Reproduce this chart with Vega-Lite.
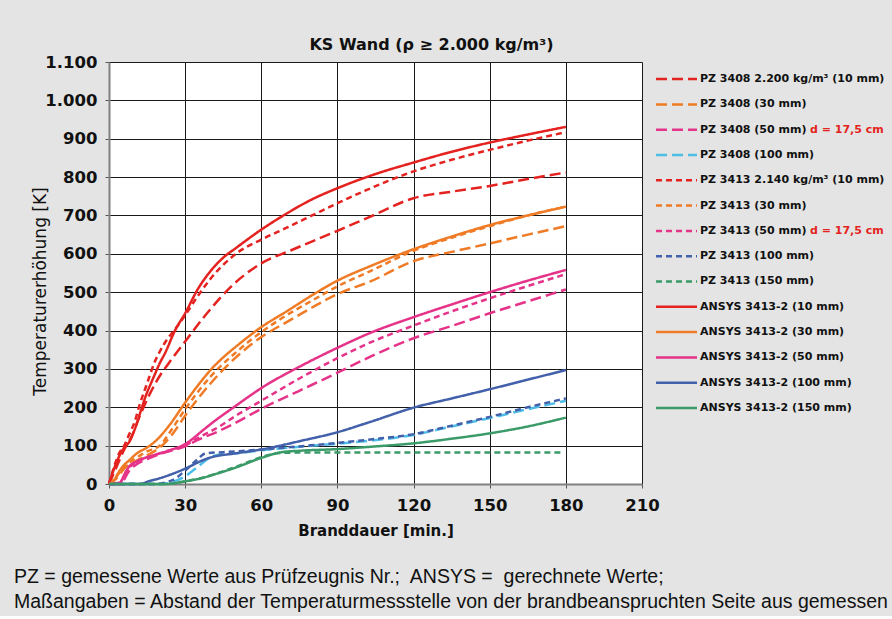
{
  "$schema": "https://vega.github.io/schema/vega-lite/v6.json",
  "background": "#e3e4e3",
  "padding": {"left": 14, "top": 37, "right": 2, "bottom": 5},
  "spacing": 14,
  "bounds": "flush",
  "title": {
    "text": ["PZ = gemessene Werte aus Prüfzeugnis Nr.;\u00a0 ANSYS =\u00a0 gerechnete Werte;", "Maßangaben = Abstand der Temperaturmessstelle von der brandbeanspruchten Seite aus gemessen"],
    "orient": "bottom",
    "anchor": "start",
    "frame": "bounds",
    "dx": -17,
    "offset": 29,
    "font": "Liberation Sans",
    "fontSize": 19.5,
    "fontWeight": "normal",
    "lineHeight": 25,
    "color": "#111"
  },
  "datasets": {
    "curves": [
      {"s":"3408-10","t":0,"T":0},{"s":"3408-10","t":3,"T":45},{"s":"3408-10","t":6,"T":90},{"s":"3408-10","t":9,"T":125},{"s":"3408-10","t":12,"T":175},{"s":"3408-10","t":15,"T":220},{"s":"3408-10","t":19,"T":271},{"s":"3408-10","t":25,"T":328},{"s":"3408-10","t":31,"T":380},{"s":"3408-10","t":37,"T":432},{"s":"3408-10","t":40,"T":456},{"s":"3408-10","t":48,"T":514},{"s":"3408-10","t":60,"T":575},{"s":"3408-10","t":72,"T":610},{"s":"3408-10","t":90,"T":660},{"s":"3408-10","t":103,"T":697},{"s":"3408-10","t":120,"T":745},{"s":"3408-10","t":135,"T":762},{"s":"3408-10","t":150,"T":777},{"s":"3408-10","t":165,"T":795},{"s":"3408-10","t":180,"T":812},
      {"s":"3408-30","t":0,"T":0},{"s":"3408-30","t":3,"T":15},{"s":"3408-30","t":6,"T":40},{"s":"3408-30","t":10,"T":58},{"s":"3408-30","t":15,"T":75},{"s":"3408-30","t":20,"T":95},{"s":"3408-30","t":25,"T":130},{"s":"3408-30","t":30,"T":178},{"s":"3408-30","t":35,"T":222},{"s":"3408-30","t":40,"T":262},{"s":"3408-30","t":45,"T":298},{"s":"3408-30","t":50,"T":330},{"s":"3408-30","t":60,"T":383},{"s":"3408-30","t":70,"T":422},{"s":"3408-30","t":80,"T":460},{"s":"3408-30","t":90,"T":495},{"s":"3408-30","t":103,"T":528},{"s":"3408-30","t":120,"T":581},{"s":"3408-30","t":135,"T":605},{"s":"3408-30","t":150,"T":627},{"s":"3408-30","t":165,"T":650},{"s":"3408-30","t":180,"T":672},
      {"s":"3408-50","t":0,"T":0},{"s":"3408-50","t":5,"T":5},{"s":"3408-50","t":8,"T":35},{"s":"3408-50","t":11,"T":52},{"s":"3408-50","t":15,"T":65},{"s":"3408-50","t":20,"T":78},{"s":"3408-50","t":25,"T":88},{"s":"3408-50","t":30,"T":98},{"s":"3408-50","t":35,"T":115},{"s":"3408-50","t":43,"T":137},{"s":"3408-50","t":50,"T":160},{"s":"3408-50","t":60,"T":196},{"s":"3408-50","t":75,"T":243},{"s":"3408-50","t":90,"T":290},{"s":"3408-50","t":103,"T":332},{"s":"3408-50","t":120,"T":380},{"s":"3408-50","t":135,"T":412},{"s":"3408-50","t":150,"T":445},{"s":"3408-50","t":165,"T":476},{"s":"3408-50","t":180,"T":507},
      {"s":"3408-100","t":0,"T":0},{"s":"3408-100","t":20,"T":0},{"s":"3408-100","t":25,"T":5},{"s":"3408-100","t":30,"T":20},{"s":"3408-100","t":35,"T":45},{"s":"3408-100","t":40,"T":70},{"s":"3408-100","t":45,"T":78},{"s":"3408-100","t":50,"T":80},{"s":"3408-100","t":60,"T":88},{"s":"3408-100","t":75,"T":97},{"s":"3408-100","t":90,"T":105},{"s":"3408-100","t":103,"T":113},{"s":"3408-100","t":120,"T":128},{"s":"3408-100","t":135,"T":150},{"s":"3408-100","t":150,"T":172},{"s":"3408-100","t":165,"T":195},{"s":"3408-100","t":180,"T":217},
      {"s":"3413-10","t":0,"T":0},{"s":"3413-10","t":2,"T":45},{"s":"3413-10","t":4,"T":80},{"s":"3413-10","t":6,"T":100},{"s":"3413-10","t":8,"T":130},{"s":"3413-10","t":10,"T":160},{"s":"3413-10","t":12,"T":205},{"s":"3413-10","t":15,"T":262},{"s":"3413-10","t":18,"T":318},{"s":"3413-10","t":20,"T":345},{"s":"3413-10","t":23,"T":378},{"s":"3413-10","t":26,"T":403},{"s":"3413-10","t":30,"T":440},{"s":"3413-10","t":35,"T":490},{"s":"3413-10","t":40,"T":535},{"s":"3413-10","t":50,"T":600},{"s":"3413-10","t":60,"T":637},{"s":"3413-10","t":70,"T":668},{"s":"3413-10","t":80,"T":700},{"s":"3413-10","t":90,"T":732},{"s":"3413-10","t":100,"T":762},{"s":"3413-10","t":110,"T":790},{"s":"3413-10","t":120,"T":815},{"s":"3413-10","t":135,"T":845},{"s":"3413-10","t":150,"T":871},{"s":"3413-10","t":165,"T":895},{"s":"3413-10","t":180,"T":917},
      {"s":"3413-30","t":0,"T":0},{"s":"3413-30","t":3,"T":20},{"s":"3413-30","t":6,"T":45},{"s":"3413-30","t":10,"T":65},{"s":"3413-30","t":15,"T":85},{"s":"3413-30","t":20,"T":100},{"s":"3413-30","t":25,"T":145},{"s":"3413-30","t":30,"T":195},{"s":"3413-30","t":35,"T":240},{"s":"3413-30","t":40,"T":280},{"s":"3413-30","t":50,"T":343},{"s":"3413-30","t":60,"T":396},{"s":"3413-30","t":70,"T":440},{"s":"3413-30","t":80,"T":478},{"s":"3413-30","t":90,"T":515},{"s":"3413-30","t":103,"T":555},{"s":"3413-30","t":120,"T":608},{"s":"3413-30","t":135,"T":642},{"s":"3413-30","t":150,"T":672},{"s":"3413-30","t":165,"T":700},{"s":"3413-30","t":180,"T":723},
      {"s":"3413-50","t":0,"T":0},{"s":"3413-50","t":4,"T":2},{"s":"3413-50","t":7,"T":35},{"s":"3413-50","t":10,"T":55},{"s":"3413-50","t":15,"T":68},{"s":"3413-50","t":20,"T":80},{"s":"3413-50","t":25,"T":90},{"s":"3413-50","t":30,"T":100},{"s":"3413-50","t":35,"T":120},{"s":"3413-50","t":43,"T":148},{"s":"3413-50","t":50,"T":178},{"s":"3413-50","t":60,"T":217},{"s":"3413-50","t":75,"T":275},{"s":"3413-50","t":90,"T":328},{"s":"3413-50","t":103,"T":369},{"s":"3413-50","t":120,"T":413},{"s":"3413-50","t":135,"T":450},{"s":"3413-50","t":150,"T":484},{"s":"3413-50","t":165,"T":516},{"s":"3413-50","t":180,"T":547},
      {"s":"3413-100","t":0,"T":0},{"s":"3413-100","t":18,"T":0},{"s":"3413-100","t":25,"T":10},{"s":"3413-100","t":30,"T":35},{"s":"3413-100","t":35,"T":65},{"s":"3413-100","t":38,"T":80},{"s":"3413-100","t":45,"T":83},{"s":"3413-100","t":50,"T":85},{"s":"3413-100","t":60,"T":90},{"s":"3413-100","t":75,"T":98},{"s":"3413-100","t":90,"T":107},{"s":"3413-100","t":103,"T":116},{"s":"3413-100","t":120,"T":130},{"s":"3413-100","t":135,"T":152},{"s":"3413-100","t":150,"T":175},{"s":"3413-100","t":165,"T":200},{"s":"3413-100","t":180,"T":223},
      {"s":"3413-150","t":0,"T":0},{"s":"3413-150","t":22,"T":0},{"s":"3413-150","t":30,"T":7},{"s":"3413-150","t":40,"T":22},{"s":"3413-150","t":50,"T":45},{"s":"3413-150","t":60,"T":70},{"s":"3413-150","t":66,"T":80},{"s":"3413-150","t":75,"T":82},{"s":"3413-150","t":90,"T":82},{"s":"3413-150","t":120,"T":82},{"s":"3413-150","t":150,"T":82},{"s":"3413-150","t":178,"T":82},
      {"s":"A-10","t":0,"T":0},{"s":"A-10","t":2,"T":40},{"s":"A-10","t":4,"T":72},{"s":"A-10","t":6,"T":95},{"s":"A-10","t":8,"T":110},{"s":"A-10","t":10,"T":140},{"s":"A-10","t":12.5,"T":190},{"s":"A-10","t":14.5,"T":230},{"s":"A-10","t":16.5,"T":262},{"s":"A-10","t":18,"T":285},{"s":"A-10","t":20,"T":315},{"s":"A-10","t":22,"T":340},{"s":"A-10","t":26,"T":400},{"s":"A-10","t":30,"T":445},{"s":"A-10","t":35,"T":508},{"s":"A-10","t":40,"T":555},{"s":"A-10","t":45,"T":590},{"s":"A-10","t":50,"T":615},{"s":"A-10","t":60,"T":663},{"s":"A-10","t":70,"T":705},{"s":"A-10","t":80,"T":742},{"s":"A-10","t":90,"T":771},{"s":"A-10","t":105,"T":808},{"s":"A-10","t":120,"T":838},{"s":"A-10","t":135,"T":866},{"s":"A-10","t":150,"T":890},{"s":"A-10","t":165,"T":911},{"s":"A-10","t":180,"T":931},
      {"s":"A-30","t":0,"T":0},{"s":"A-30","t":2,"T":10},{"s":"A-30","t":4,"T":33},{"s":"A-30","t":6,"T":50},{"s":"A-30","t":8,"T":62},{"s":"A-30","t":11,"T":80},{"s":"A-30","t":15,"T":95},{"s":"A-30","t":19,"T":116},{"s":"A-30","t":24,"T":155},{"s":"A-30","t":30,"T":212},{"s":"A-30","t":36,"T":265},{"s":"A-30","t":40,"T":297},{"s":"A-30","t":45,"T":330},{"s":"A-30","t":50,"T":358},{"s":"A-30","t":60,"T":409},{"s":"A-30","t":70,"T":450},{"s":"A-30","t":80,"T":492},{"s":"A-30","t":90,"T":530},{"s":"A-30","t":103,"T":568},{"s":"A-30","t":120,"T":612},{"s":"A-30","t":135,"T":645},{"s":"A-30","t":150,"T":675},{"s":"A-30","t":165,"T":700},{"s":"A-30","t":180,"T":723},
      {"s":"A-50","t":0,"T":0},{"s":"A-50","t":4,"T":0},{"s":"A-50","t":6,"T":24},{"s":"A-50","t":8,"T":46},{"s":"A-50","t":11,"T":59},{"s":"A-50","t":15,"T":70},{"s":"A-50","t":18,"T":76},{"s":"A-50","t":24,"T":88},{"s":"A-50","t":30,"T":104},{"s":"A-50","t":37,"T":140},{"s":"A-50","t":40,"T":156},{"s":"A-50","t":50,"T":204},{"s":"A-50","t":60,"T":250},{"s":"A-50","t":76,"T":309},{"s":"A-50","t":90,"T":355},{"s":"A-50","t":103,"T":394},{"s":"A-50","t":120,"T":435},{"s":"A-50","t":135,"T":468},{"s":"A-50","t":150,"T":500},{"s":"A-50","t":165,"T":530},{"s":"A-50","t":180,"T":558},
      {"s":"A-100","t":0,"T":0},{"s":"A-100","t":12,"T":0},{"s":"A-100","t":16,"T":8},{"s":"A-100","t":20,"T":15},{"s":"A-100","t":24,"T":24},{"s":"A-100","t":30,"T":40},{"s":"A-100","t":37,"T":62},{"s":"A-100","t":40,"T":69},{"s":"A-100","t":50,"T":80},{"s":"A-100","t":60,"T":90},{"s":"A-100","t":76,"T":113},{"s":"A-100","t":90,"T":135},{"s":"A-100","t":103,"T":162},{"s":"A-100","t":120,"T":199},{"s":"A-100","t":135,"T":223},{"s":"A-100","t":150,"T":247},{"s":"A-100","t":165,"T":272},{"s":"A-100","t":180,"T":297},
      {"s":"A-150","t":0,"T":0},{"s":"A-150","t":22,"T":0},{"s":"A-150","t":30,"T":7},{"s":"A-150","t":37,"T":16},{"s":"A-150","t":40,"T":22},{"s":"A-150","t":50,"T":43},{"s":"A-150","t":60,"T":68},{"s":"A-150","t":68,"T":83},{"s":"A-150","t":76,"T":87},{"s":"A-150","t":90,"T":91},{"s":"A-150","t":103,"T":97},{"s":"A-150","t":120,"T":106},{"s":"A-150","t":135,"T":118},{"s":"A-150","t":150,"T":132},{"s":"A-150","t":165,"T":150},{"s":"A-150","t":180,"T":173}
    ],
    "legend": [
      {"s":"3408-10","label":"PZ 3408 2.200 kg/m³ (10 mm)","note":""},
      {"s":"3408-30","label":"PZ 3408 (30 mm)","note":""},
      {"s":"3408-50","label":"PZ 3408 (50 mm)","note":"d = 17,5 cm"},
      {"s":"3408-100","label":"PZ 3408 (100 mm)","note":""},
      {"s":"3413-10","label":"PZ 3413 2.140 kg/m³ (10 mm)","note":""},
      {"s":"3413-30","label":"PZ 3413 (30 mm)","note":""},
      {"s":"3413-50","label":"PZ 3413 (50 mm)","note":"d = 17,5 cm"},
      {"s":"3413-100","label":"PZ 3413 (100 mm)","note":""},
      {"s":"3413-150","label":"PZ 3413 (150 mm)","note":""},
      {"s":"A-10","label":"ANSYS 3413-2 (10 mm)","note":""},
      {"s":"A-30","label":"ANSYS 3413-2 (30 mm)","note":""},
      {"s":"A-50","label":"ANSYS 3413-2 (50 mm)","note":""},
      {"s":"A-100","label":"ANSYS 3413-2 (100 mm)","note":""},
      {"s":"A-150","label":"ANSYS 3413-2 (150 mm)","note":""}
    ]
  },
  "hconcat": [
    {
      "width": 533,
      "height": 422,
      "view": {"fill": "white", "stroke": null},
      "title": {"text": "KS Wand (ρ ≥ 2.000 kg/m³)", "font": "DejaVu Sans", "fontSize": 16, "fontWeight": "bold", "color": "#111", "offset": 1, "dx": 56, "anchor": "middle"},
      "data": {"name": "curves"},
      "mark": {"type": "line", "strokeWidth": 2.5, "interpolate": "monotone"},
      "encoding": {
        "x": {
          "field": "t", "type": "quantitative",
          "scale": {"domain": [0, 210], "nice": false},
          "axis": {
            "title": "Branddauer [min.]", "values": [0, 30, 60, 90, 120, 150, 180, 210],
            "labelFlush": false, "labelFont": "DejaVu Sans", "labelFontSize": 16.5, "labelFontWeight": "bold", "labelColor": "#111",
            "labelPadding": 9, "tickSize": 4, "tickColor": "#555",
            "titleFont": "DejaVu Sans", "titleFontSize": 15, "titleFontWeight": "bold", "titleColor": "#111", "titlePadding": 10,
            "grid": true, "gridColor": "#1a1a1a", "gridWidth": 1, "domainColor": "#808080", "domainWidth": 2
          }
        },
        "y": {
          "field": "T", "type": "quantitative",
          "scale": {"domain": [0, 1100], "nice": false},
          "axis": {
            "title": "Temperaturerhöhung [K]", "values": [0, 100, 200, 300, 400, 500, 600, 700, 800, 900, 1000, 1100],
            "labelExpr": "replace(format(datum.value, ','), ',', '.')",
            "labelFont": "DejaVu Sans", "labelFontSize": 16.5, "labelFontWeight": "bold", "labelColor": "#111",
            "labelPadding": 8, "tickSize": 4, "tickColor": "#555",
            "titleFont": "DejaVu Sans", "titleFontSize": 17, "titleFontWeight": "normal", "titleColor": "#111",
            "titleX": -60, "titleY": 229,
            "grid": true, "gridColor": "#1a1a1a", "gridWidth": 1, "domainColor": "#808080", "domainWidth": 2
          }
        },
        "color": {
          "field": "s", "type": "nominal", "legend": null,
          "scale": {
            "domain": ["3408-10","3408-30","3408-50","3408-100","3413-10","3413-30","3413-50","3413-100","3413-150","A-10","A-30","A-50","A-100","A-150"],
            "range": ["#e42320","#ef7b26","#e6338a","#4ebde8","#e42320","#ef7b26","#e6338a","#4360aa","#3a9a68","#e42320","#ef7b26","#e6338a","#4360aa","#3a9a68"]
          }
        },
        "strokeDash": {
          "field": "s", "type": "nominal", "legend": null,
          "scale": {
            "domain": ["3408-10","3408-30","3408-50","3408-100","3413-10","3413-30","3413-50","3413-100","3413-150","A-10","A-30","A-50","A-100","A-150"],
            "range": [[11,5],[11,5],[11,5],[11,5],[6,4],[6,4],[6,4],[6,4],[6,4],[1,0],[1,0],[1,0],[1,0],[1,0]]
          }
        }
      }
    },
    {
      "width": 230,
      "height": {"step": 25.3},
      "view": {"fill": null, "stroke": null},
      "data": {"name": "legend"},
      "encoding": {
        "y": {
          "field": "s", "type": "nominal", "axis": null,
          "scale": {"domain": ["3408-10","3408-30","3408-50","3408-100","3413-10","3413-30","3413-50","3413-100","3413-150","A-10","A-30","A-50","A-100","A-150"], "padding": 0.35}
        }
      },
      "layer": [
        {
          "mark": {"type": "rule", "strokeWidth": 2.5},
          "encoding": {
            "x": {"datum": 0, "type": "quantitative", "scale": {"domain": [0, 230], "nice": false}, "axis": null},
            "x2": {"datum": 41},
            "color": {
              "field": "s", "type": "nominal", "legend": null,
              "scale": {
                "domain": ["3408-10","3408-30","3408-50","3408-100","3413-10","3413-30","3413-50","3413-100","3413-150","A-10","A-30","A-50","A-100","A-150"],
                "range": ["#e42320","#ef7b26","#e6338a","#4ebde8","#e42320","#ef7b26","#e6338a","#4360aa","#3a9a68","#e42320","#ef7b26","#e6338a","#4360aa","#3a9a68"]
              }
            },
            "strokeDash": {
              "field": "s", "type": "nominal", "legend": null,
              "scale": {
                "domain": ["3408-10","3408-30","3408-50","3408-100","3413-10","3413-30","3413-50","3413-100","3413-150","A-10","A-30","A-50","A-100","A-150"],
                "range": [[11,5],[11,5],[11,5],[11,5],[6,4],[6,4],[6,4],[6,4],[6,4],[1,0],[1,0],[1,0],[1,0],[1,0]]
              }
            }
          }
        },
        {
          "mark": {"type": "text", "align": "left", "baseline": "middle", "font": "DejaVu Sans", "fontSize": 11, "fontWeight": "bold", "color": "#111"},
          "encoding": {
            "x": {"datum": 44, "type": "quantitative"},
            "text": {"field": "label"}
          }
        },
        {
          "transform": [{"filter": "datum.note != ''"}],
          "mark": {"type": "text", "align": "left", "baseline": "middle", "font": "DejaVu Sans", "fontSize": 11, "fontWeight": "bold", "color": "#e42320"},
          "encoding": {
            "x": {"datum": 154, "type": "quantitative"},
            "text": {"field": "note"}
          }
        }
      ]
    }
  ]
}
